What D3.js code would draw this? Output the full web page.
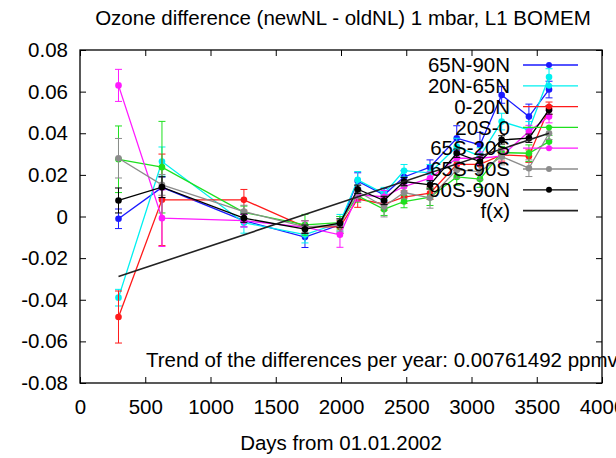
<!DOCTYPE html>
<html>
<head>
<meta charset="utf-8">
<script src="https://cdn.jsdelivr.net/npm/d3@7"></script>
<style>
  body { margin: 0; background: #fff; }
  svg text { font-family: "Liberation Sans", Arial, sans-serif; fill: #000; }
</style>
</head>
<body>
<div id="grafico"></div>
<script>
// dias desde 01.01.2002
const dias = [295, 628, 1256, 1724, 1992, 2128, 2330, 2483, 2682, 2887, 3065, 3231, 3440, 3594];

const nomesSeries = ["65N-90N", "20N-65N", "0-20N", "20S-0", "65S-20S", "65S-90S", "90S-90N"];
const coresSeries = ["#1a1aff", "#00f0f0", "#ff1a1a", "#1ee01e", "#ff1aff", "#8c8c8c", "#000000"];

const v65N90N = [-0.0011, 0.014, -0.002, -0.0099, -0.004, 0.017, 0.0104, 0.019, 0.0237, 0.0376, 0.0344, 0.0584, 0.048, 0.061];
const e65N90N = [0.0047, 0.005, 0.003, 0.005, 0.004, 0.004, 0.003, 0.003, 0.0035, 0.006, 0.006, 0.004, 0.006, 0.004];
const v20N65N = [-0.039, 0.0264, -0.003, -0.0087, -0.003, 0.0176, 0.011, 0.022, 0.021, 0.0336, 0.029, 0.0456, 0.0416, 0.067];
const e20N65N = [0.004, 0.007, 0.005, 0.004, 0.004, 0.004, 0.003, 0.003, 0.004, 0.004, 0.004, 0.004, 0.004, 0.004];
const v0_20N = [-0.0483, 0.008, 0.008, -0.005, -0.005, 0.0084, 0.006, 0.0093, 0.0112, 0.025, 0.025, 0.0296, 0.029, 0.052];
const e0_20N = [0.0125, 0.022, 0.005, 0.003, 0.003, 0.004, 0.003, 0.003, 0.003, 0.003, 0.003, 0.003, 0.003, 0.003];
const v20S_0 = [0.0275, 0.0237, 0.002, -0.004, -0.003, 0.0099, 0.0035, 0.0072, 0.0093, 0.019, 0.018, 0.0307, 0.0304, 0.036];
const e20S_0 = [0.016, 0.022, 0.003, 0.005, 0.003, 0.003, 0.003, 0.003, 0.004, 0.004, 0.004, 0.003, 0.004, 0.003];
const v65S20S = [0.063, -0.0008, -0.002, -0.0051, -0.0088, 0.0104, 0.0095, 0.0144, 0.0184, 0.028, 0.028, 0.029, 0.0408, 0.048];
const e65S20S = [0.0077, 0.0136, 0.003, 0.003, 0.006, 0.003, 0.003, 0.003, 0.003, 0.003, 0.003, 0.003, 0.003, 0.003];
const v65S90S = [0.028, 0.0152, 0.0024, -0.005, -0.004, 0.012, 0.0048, 0.0115, 0.009, 0.0224, 0.0216, 0.0288, 0.0232, 0.040];
const e65S90S = [0.0095, 0.005, 0.003, 0.003, 0.003, 0.003, 0.005, 0.003, 0.005, 0.004, 0.004, 0.004, 0.004, 0.003];
const v90S90N = [0.0077, 0.0141, -0.0008, -0.0061, -0.0032, 0.0131, 0.0077, 0.0168, 0.0152, 0.0304, 0.0264, 0.0368, 0.0376, 0.0512];
const e90S90N = [0.006, 0.005, 0.002, 0.002, 0.002, 0.002, 0.002, 0.002, 0.002, 0.002, 0.002, 0.002, 0.002, 0.002];

const valoresSeries = [v65N90N, v20N65N, v0_20N, v20S_0, v65S20S, v65S90S, v90S90N];
const errosSeries = [e65N90N, e20N65N, e0_20N, e20S_0, e65S20S, e65S90S, e90S90N];

// ajuste linear f(x)
const tendenciaAno = 0.00761492;
const interceptoFx = -0.035;

const ticksX = [0, 500, 1000, 1500, 2000, 2500, 3000, 3500, 4000];
const ticksY = [-0.08, -0.06, -0.04, -0.02, 0, 0.02, 0.04, 0.06, 0.08];

const largura = 616, altura = 458;
const margem = { top: 50, right: 14, bottom: 75, left: 80 };
const fonte = "20.5px";

const svg = d3.select("#grafico").append("svg")
    .attr("width", largura)
    .attr("height", altura);

const x = d3.scaleLinear().domain([0, 4000]).range([margem.left, largura - margem.right]);
const y = d3.scaleLinear().domain([-0.08, 0.08]).range([altura - margem.bottom, margem.top]);

const fmtY = d => d === 0 ? "0" : d.toFixed(2);
const tam = 6;

// eixos com ticks para dentro
svg.append("g").attr("transform", `translate(0,${y(-0.08)})`)
    .call(d3.axisBottom(x).tickValues(ticksX).tickSize(-tam).tickPadding(16).tickFormat(d3.format("d")))
    .call(g => g.select(".domain").remove());
svg.append("g").attr("transform", `translate(0,${y(0.08)})`)
    .call(d3.axisTop(x).tickValues(ticksX).tickSize(-tam).tickFormat(""))
    .call(g => g.select(".domain").remove());
svg.append("g").attr("transform", `translate(${x(0)},0)`)
    .call(d3.axisLeft(y).tickValues(ticksY).tickSize(-tam).tickPadding(12).tickFormat(fmtY))
    .call(g => g.select(".domain").remove());
svg.append("g").attr("transform", `translate(${x(4000)},0)`)
    .call(d3.axisRight(y).tickValues(ticksY).tickSize(-tam).tickFormat(""))
    .call(g => g.select(".domain").remove());

svg.selectAll(".tick line").attr("stroke", "#000").attr("stroke-width", 1);
svg.selectAll(".tick text")
    .style("font-size", fonte)
    .style("font-family", "Liberation Sans, Arial, sans-serif");

const areaPlot = svg.append("g");

valoresSeries.forEach((vals, s) => {
    const cor = coresSeries[s];
    const erros = errosSeries[s];
    const pontos = dias.map((d, i) => ({ d, v: vals[i], e: erros[i] }));

    areaPlot.append("path")
        .datum(pontos)
        .attr("fill", "none")
        .attr("stroke", cor)
        .attr("stroke-width", 1.3)
        .attr("d", d3.line().x(p => x(p.d)).y(p => y(p.v)));

    const barras = areaPlot.append("g").attr("stroke", cor).attr("stroke-width", 1);
    pontos.forEach(p => {
        barras.append("line")
            .attr("x1", x(p.d)).attr("x2", x(p.d))
            .attr("y1", y(p.v - p.e)).attr("y2", y(p.v + p.e));
        [p.v - p.e, p.v + p.e].forEach(v => {
            barras.append("line")
                .attr("x1", x(p.d) - 3.5).attr("x2", x(p.d) + 3.5)
                .attr("y1", y(v)).attr("y2", y(v));
        });
    });

    areaPlot.append("g").selectAll("circle")
        .data(pontos)
        .enter().append("circle")
        .attr("cx", p => x(p.d))
        .attr("cy", p => y(p.v))
        .attr("r", 3.3)
        .attr("fill", cor);
});

// linha f(x)
const x0 = dias[0], x1 = dias[dias.length - 1];
areaPlot.append("line")
    .attr("x1", x(x0)).attr("y1", y(interceptoFx + tendenciaAno / 365 * x0))
    .attr("x2", x(x1)).attr("y2", y(interceptoFx + tendenciaAno / 365 * x1))
    .attr("stroke", "#222")
    .attr("stroke-width", 1.6);

// moldura
svg.append("rect")
    .attr("x", x(0)).attr("y", y(0.08))
    .attr("width", x(4000) - x(0))
    .attr("height", y(-0.08) - y(0.08))
    .attr("fill", "none")
    .attr("stroke", "#000")
    .attr("stroke-width", 1.3);

// legenda
const legenda = svg.append("g").attr("transform", "translate(510,65)");
const itensLegenda = nomesSeries.map((n, i) => ({ nome: n, cor: coresSeries[i], ponto: true }))
    .concat([{ nome: "f(x)", cor: "#222", ponto: false }]);
const passo = 20.8;

const item = legenda.selectAll(".legend-item")
    .data(itensLegenda)
    .enter().append("g")
    .attr("class", "legend-item")
    .attr("transform", (d, i) => `translate(0, ${i * passo})`);

item.append("text")
    .attr("x", 0)
    .attr("dy", "0.35em")
    .attr("text-anchor", "end")
    .style("font-size", fonte)
    .text(d => d.nome);

item.append("line")
    .attr("x1", 13).attr("x2", 68)
    .attr("stroke", d => d.cor)
    .attr("stroke-width", d => d.ponto ? 1.3 : 1.6);

item.filter(d => d.ponto).append("circle")
    .attr("cx", 39).attr("r", 3)
    .attr("fill", d => d.cor);

// textos
svg.append("text")
    .attr("x", 343).attr("y", 25)
    .attr("text-anchor", "middle")
    .style("font-size", fonte)
    .text("Ozone difference (newNL - oldNL) 1 mbar, L1 BOMEM");

svg.append("text")
    .attr("x", 341).attr("y", 450)
    .attr("text-anchor", "middle")
    .style("font-size", fonte)
    .text("Days from 01.01.2002");

svg.append("text")
    .attr("x", 146).attr("y", 367)
    .style("font-size", fonte)
    .text("Trend of the differences per year: " + tendenciaAno + " ppmv");
</script>
</body>
</html>
